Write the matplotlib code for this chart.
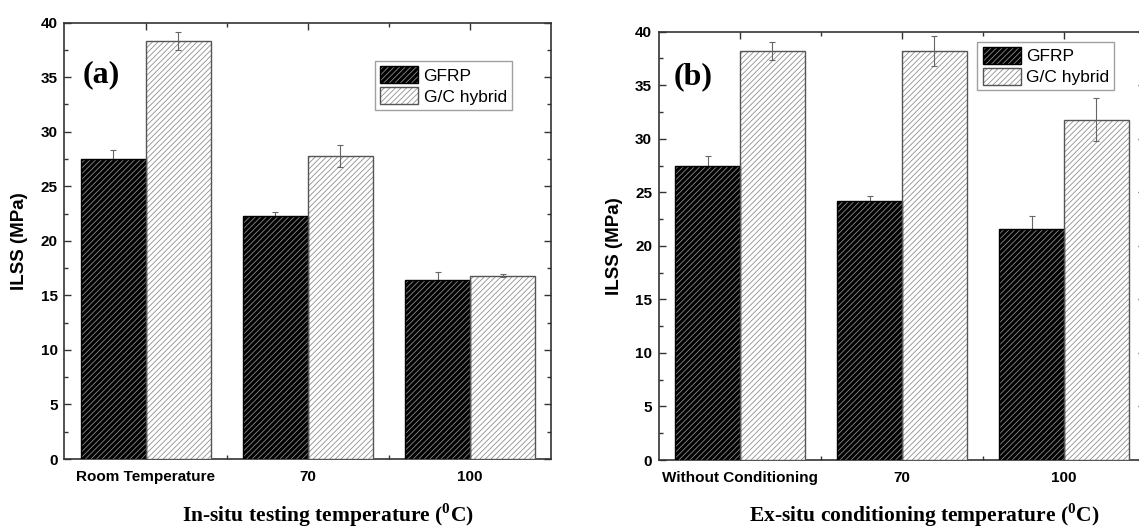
import matplotlib
matplotlib.use("Agg")
import matplotlib.pyplot as plt
import numpy as np
from matplotlib.legend_handler import HandlerTuple
from matplotlib.ticker import FixedLocator, MultipleLocator

plt.rcParams["font.family"] = ["Liberation Sans", "DejaVu Sans"]
plt.rcParams["mathtext.fontset"] = "custom"
plt.rcParams["mathtext.rm"] = "Liberation Serif:bold"
plt.rcParams["mathtext.bf"] = "Liberation Serif:bold"
plt.rcParams["hatch.linewidth"] = 0.6

# (a) in-situ testing
insitu_labels = ["Room Temperature", "70", "100"]
insitu_gfrp = [27.5, 22.3, 16.4]
insitu_gfrp_err = [0.85, 0.3, 0.75]
insitu_hybrid = [38.3, 27.8, 16.8]
insitu_hybrid_err = [0.8, 1.0, 0.15]

# (b) ex-situ conditioning
exsitu_labels = ["Without Conditioning", "70", "100"]
exsitu_gfrp = [27.45, 24.2, 21.55]
exsitu_gfrp_err = [0.9, 0.45, 1.25]
exsitu_hybrid = [38.2, 38.2, 31.8]
exsitu_hybrid_err = [0.8, 1.4, 2.05]

series_names = ["GFRP", "G/C hybrid"]

BAR_W = 0.4
HATCH = "//////"
ERR_KW = dict(fmt="none", ecolor="#666666", elinewidth=0.8, capsize=2.2, capthick=0.8)


def draw_panel(ax, labels, gfrp, gfrp_err, hybrid, hybrid_err, tag, tag_xy, legend_anchor):
    x = np.arange(1, len(labels) + 1)
    xg = x - BAR_W / 2
    xh = x + BAR_W / 2

    # hatched fills first, outlines on top so hatch and edge colours differ
    g_fill = ax.bar(xg, gfrp, BAR_W, color="black", edgecolor="#8a8a8a",
                    hatch=HATCH, linewidth=0, zorder=3)
    g_edge = ax.bar(xg, gfrp, BAR_W, fill=False, edgecolor="black",
                    linewidth=1.0, zorder=3.1)
    h_fill = ax.bar(xh, hybrid, BAR_W, color="white", edgecolor="#8f8f8f",
                    hatch=HATCH, linewidth=0, zorder=3)
    h_edge = ax.bar(xh, hybrid, BAR_W, fill=False, edgecolor="#555555",
                    linewidth=1.0, zorder=3.1)

    ax.errorbar(xg, gfrp, yerr=gfrp_err, zorder=2.9, **ERR_KW)
    ax.errorbar(xh, hybrid, yerr=hybrid_err, zorder=3.5, **ERR_KW)

    ax.set_xlim(0.5, 3.5)
    ax.set_ylim(0, 40)
    ax.set_xticks(x)
    ax.set_xticklabels(labels, fontsize=11, fontweight="bold")
    ax.xaxis.set_minor_locator(FixedLocator([1.5, 2.5]))
    ax.yaxis.set_major_locator(MultipleLocator(5))
    ax.yaxis.set_minor_locator(MultipleLocator(2.5))
    for lab in ax.get_yticklabels():
        lab.set_fontsize(11)
        lab.set_fontweight("bold")

    ax.tick_params(which="both", direction="in", top=True, right=True, width=1.0, color="#333333")
    ax.tick_params(which="major", length=5)
    ax.tick_params(which="minor", length=3)
    ax.tick_params(axis="x", which="major", pad=8)
    ax.tick_params(axis="y", which="major", pad=5)
    for sp in ax.spines.values():
        sp.set_linewidth(1.2)
        sp.set_color("#333333")

    ax.set_ylabel("ILSS (MPa)", fontsize=13.5, fontweight="bold", labelpad=9)

    ax.text(tag_xy[0], tag_xy[1], tag, transform=ax.transAxes, fontsize=23,
            fontweight="bold", family="Liberation Serif", ha="center", va="center")

    leg = ax.legend([(g_fill, g_edge), (h_fill, h_edge)], series_names,
                    handler_map={tuple: HandlerTuple(ndivide=1, pad=0)},
                    loc="upper right", bbox_to_anchor=legend_anchor, borderaxespad=0,
                    fontsize=12.5, frameon=True, fancybox=False, edgecolor="#888888",
                    handlelength=2.2, handleheight=1.15, handletextpad=0.3,
                    labelspacing=0.2, borderpad=0.3)
    leg.get_frame().set_linewidth(1.0)


fig = plt.figure(figsize=(11.39, 5.27), dpi=100)
ax_a = fig.add_axes([0.0566, 0.129, 0.4274, 0.828])
ax_b = fig.add_axes([0.5786, 0.1271, 0.4267, 0.8127])

draw_panel(ax_a, insitu_labels, insitu_gfrp, insitu_gfrp_err,
           insitu_hybrid, insitu_hybrid_err, "(a)", (0.075, 0.88), (0.919, 0.912))
draw_panel(ax_b, exsitu_labels, exsitu_gfrp, exsitu_gfrp_err,
           exsitu_hybrid, exsitu_hybrid_err, "(b)", (0.07, 0.895), (0.937, 0.977))

fig.text(328 / 1139, 12 / 527, r"In-situ testing temperature ($^{0}$C)",
         family="Liberation Serif", fontweight="bold", fontsize=15.5, ha="center", va="center")
fig.text(924 / 1139, 12 / 527, r"Ex-situ conditioning temperature ($^{0}$C)",
         family="Liberation Serif", fontweight="bold", fontsize=15.5, ha="center", va="center")

fig.savefig("out.png", dpi=100)
